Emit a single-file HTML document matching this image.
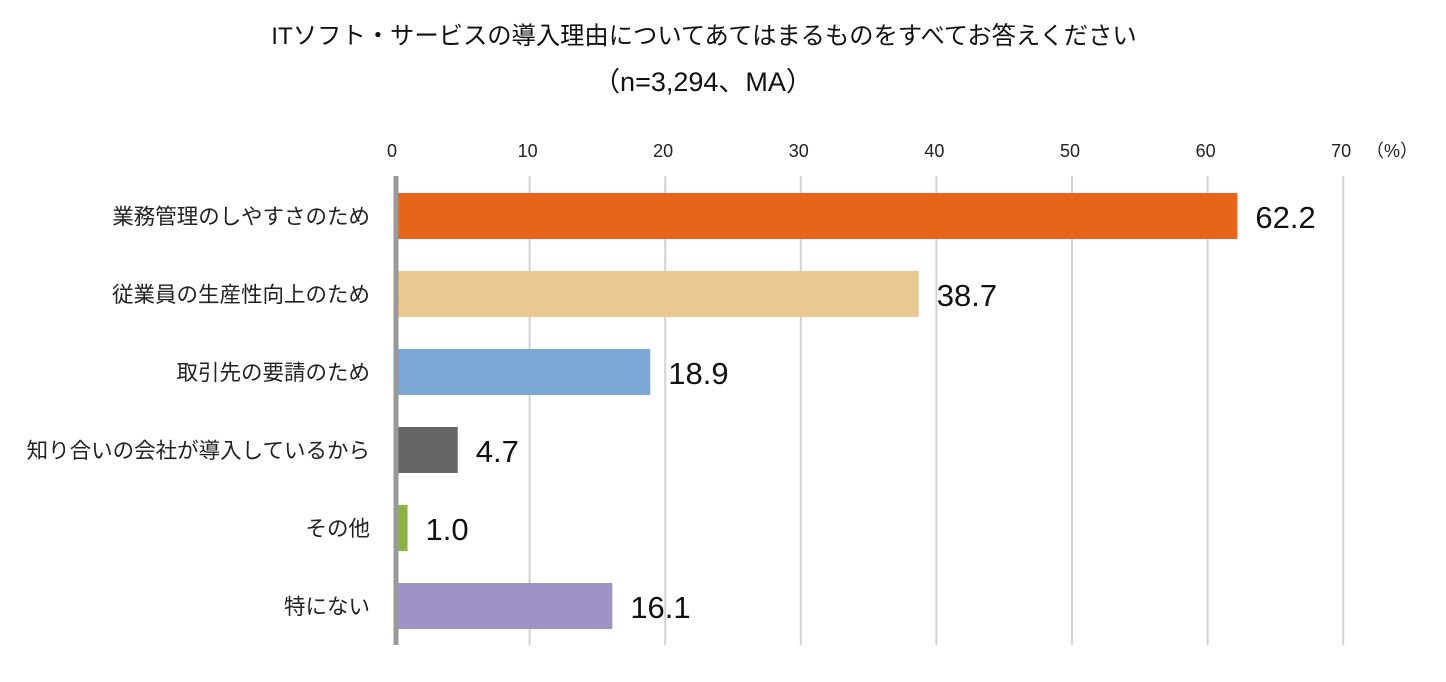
<!DOCTYPE html>
<html><head><meta charset="utf-8">
<style>
body{margin:0;background:#fff;}
svg{display:block;font-family:"Liberation Sans","Noto Sans CJK JP",sans-serif;}
</style></head>
<body>
<svg id="chart" width="1446" height="682">
<text x="704" y="44" font-size="24.3" text-anchor="middle" fill="#111">ITソフト・サービスの導入理由についてあてはまるものをすべてお答えください</text>
<text x="703" y="91" font-size="27" text-anchor="middle" fill="#111">（n=3,294、MA）</text>
<g id="grid"></g><g id="bars"></g>
</svg>
<script>
const categories=["業務管理のしやすさのため","従業員の生産性向上のため","取引先の要請のため","知り合いの会社が導入しているから","その他","特にない"];
const values=[62.2,38.7,18.9,4.7,1.0,16.1];
const valueLabels=["62.2","38.7","18.9","4.7","1.0","16.1"];
const colors=["#E8641A","#E9C98F","#7BA8D5","#666666","#8DB43F","#9E92C7"];
const ticks=[0,10,20,30,40,50,60,70];
const NS="http://www.w3.org/2000/svg";
const x0=394,pxPer=13.56,yTop=176,yBot=645,row0=216,rowH=78,barH=46;
const xs=v=>x0+v*pxPer;
const grid=document.getElementById('grid'),bars=document.getElementById('bars');
function mk(tag,attrs,parent){const e=document.createElementNS(NS,tag);for(const k in attrs)e.setAttribute(k,attrs[k]);parent.appendChild(e);return e;}
ticks.forEach(t=>{
 if(t>0){const l=mk('line',{x1:xs(t),x2:xs(t),y1:yTop,y2:yBot,stroke:'#d3d3d3','stroke-width':2},grid);
 
 }
 const tx=mk('text',{x:xs(t)-2,y:157,'font-size':18,'text-anchor':'middle',fill:'#222'},grid);tx.textContent=t;
 
 
});
const pct=mk('text',{x:1392,y:157,'font-size':18,'text-anchor':'middle',fill:'#222'},grid);pct.textContent='（%）';


categories.forEach((c,i)=>{
 const cy=row0+i*rowH;
 const r=mk('rect',{x:xs(0),y:cy-barH/2,width:xs(values[i])-xs(0),height:barH,fill:colors[i]},bars);
 
 
 const lb=mk('text',{x:370,y:cy+8,'font-size':21.5,'text-anchor':'end',fill:'#222'},bars);lb.textContent=c;
 
 
 const vl=mk('text',{x:xs(values[i])+18,y:cy+12,'font-size':31,fill:'#111'},bars);vl.textContent=valueLabels[i];
 
 
});
const ax=mk('line',{x1:396,x2:396,y1:yTop,y2:yBot,stroke:'#999','stroke-width':5},bars);


</script>
</body></html>
